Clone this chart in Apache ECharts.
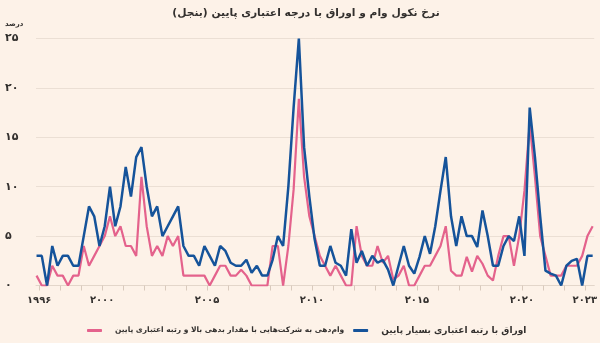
<!DOCTYPE html>
<html>
<head>
<meta charset="utf-8">
<script src="https://cdn.jsdelivr.net/npm/echarts@6/dist/echarts.min.js"></script>
<style>
html,body{margin:0;padding:0;background:#fdf2e8;}
#chart{width:600px;height:343px;}
</style>
</head>
<body>
<div id="chart"></div>
<script>
// Quarterly observations, starting late 1996
const startYear = 1996.875;
const stepYears = 0.25;

// Low-rated bonds (blue)
const blueValues = [
  3, 3, 0, 4, 2, 3, 3, 2, 2, 5,
  8, 7, 4, 6, 10, 6, 8, 12, 9, 13,
  14, 10, 7, 8, 5, 6, 7, 8, 4, 3,
  3, 2, 4, 3, 2, 4, 3.5, 2.3, 2, 2,
  2.6, 1.3, 2, 1, 1, 2.6, 5, 4, 10, 18,
  25, 14, 9, 4.7, 2, 2, 4, 2.3, 2, 1,
  5.7, 2.3, 3.5, 2, 3, 2.3, 2.6, 1.6, 0, 2,
  4, 2, 1.2, 2.9, 5, 3.2, 6, 9.6, 13, 7,
  4, 7, 5, 5, 3.9, 7.6, 5, 2, 2, 4,
  5, 4.5, 7, 3, 18, 13, 7, 1.5, 1.2, 1,
  0, 2, 2.5, 2.7, 0, 3, 3
];

// Leveraged loans (pink)
const pinkValues = [
  1, 0, 0, 2, 1, 1, 0, 1, 1, 4,
  2, 3, 4, 5, 7, 5, 6, 4, 4, 3,
  11, 6, 3, 4, 3, 5, 4, 5, 1, 1,
  1, 1, 1, 0, 1, 2, 2, 1, 1, 1.6,
  1, 0, 0, 0, 0, 4, 4, 0, 4, 9.7,
  18.9, 11, 7, 5, 3, 2, 1, 2, 1, 0,
  0, 6, 3, 2, 2, 4, 2.3, 3, 0.6, 1,
  2, 0, 0, 1, 2, 2, 3, 4, 6, 1.5,
  1, 1, 2.9, 1.4, 3, 2.2, 1, 0.5, 3, 5,
  5, 2, 5, 9.6, 16.4, 11, 5, 3, 1, 1,
  1, 2, 2, 2, 3, 5, 6
];

const xTickYears = [1997,1998,1999,2000,2001,2002,2003,2004,2005,2006,2007,2008,2009,2010,2011,2012,2013,2014,2015,2016,2017,2018,2019,2020,2021,2022,2023];
const xLabelYears = [1997, 2000, 2005, 2010, 2015, 2020, 2023];
const xLabelTexts = ['۱۹۹۶', '۲۰۰۰', '۲۰۰۵', '۲۰۱۰', '۲۰۱۵', '۲۰۲۰', '۲۰۲۳'];
const yTickLabels = ['۰', '۵', '۱۰', '۱۵', '۲۰', '۲۵'];

const titleText = 'نرخ نکول وام و اوراق با درجه اعتباری پایین (بنجل)\u200F';
const unitText = 'درصد';
const blueName = 'اوراق با رتبه اعتباری بسیار پایین';
const pinkName = 'وام‌دهی به شرکت‌هایی با مقدار بدهی بالا و رتبه اعتباری پایین';

const periods = blueValues.map((_, i) => startYear + i * stepYears);
const blueData = periods.map((t, i) => [t, blueValues[i]]);
const pinkData = periods.map((t, i) => [t, pinkValues[i]]);

const FONT = 'DejaVu Sans';
const chart = echarts.init(document.getElementById('chart'), null, {renderer: 'canvas'});
chart.setOption({
  backgroundColor: '#fdf2e8',
  animation: false,
  grid: {left: 36, right: 3.4, top: 38.5, bottom: 57.5},
  graphic: [
    {type: 'text', x: 306, y: 13, style: {text: titleText, font: 'bold 10.7px "' + FONT + '"', fill: '#33302e', textAlign: 'center', textVerticalAlign: 'middle'}},
    {type: 'text', x: 5, y: 24, style: {text: unitText, font: 'bold 7px "' + FONT + '"', fill: '#33302e', textAlign: 'left', textVerticalAlign: 'middle'}}
  ],
  legend: {
    data: [
      {name: pinkName, textStyle: {fontSize: 7.5}},
      {name: blueName, textStyle: {fontSize: 9}}
    ],
    left: 82, top: 321, width: 560,
    icon: 'roundRect',
    itemWidth: 15, itemHeight: 3,
    itemGap: 9,
    textStyle: {fontFamily: FONT, fontWeight: 'bold', fontSize: 8, color: '#33302e', padding: [0, 0, 0, 8]}
  },
  xAxis: {
    type: 'value',
    min: 1996.85, max: 2023.45,
    splitLine: {show: false},
    axisLine: {show: true, lineStyle: {color: '#e3d6ca', width: 1}},
    axisTick: {show: true, customValues: xTickYears, length: 5, lineStyle: {color: '#d9cabd'}},
    axisLabel: {
      customValues: xLabelYears,
      formatter: v => xLabelTexts[xLabelYears.indexOf(Math.round(v))] || '',
      margin: 10,
      fontFamily: FONT, fontWeight: 'bold', fontSize: 10, color: '#33302e'
    }
  },
  yAxis: {
    type: 'value',
    min: 0, max: 25, interval: 5,
    axisLine: {show: false},
    axisTick: {show: false},
    splitLine: {lineStyle: {color: '#ebdfd4', width: 1}},
    axisLabel: {
      align: 'left', margin: 31,
      formatter: v => yTickLabels[Math.round(v / 5)],
      fontFamily: FONT, fontWeight: 'bold', fontSize: 11, color: '#33302e'
    }
  },
  series: [
    {name: pinkName, type: 'line', data: pinkData, showSymbol: false, symbol: 'none',
     lineStyle: {color: '#e4628c', width: 2.2}, itemStyle: {color: '#e4628c'}, z: 2},
    {name: blueName, type: 'line', data: blueData, showSymbol: false, symbol: 'none',
     lineStyle: {color: '#15539a', width: 2.5}, itemStyle: {color: '#15539a'}, z: 3}
  ]
});
</script>
</body>
</html>
